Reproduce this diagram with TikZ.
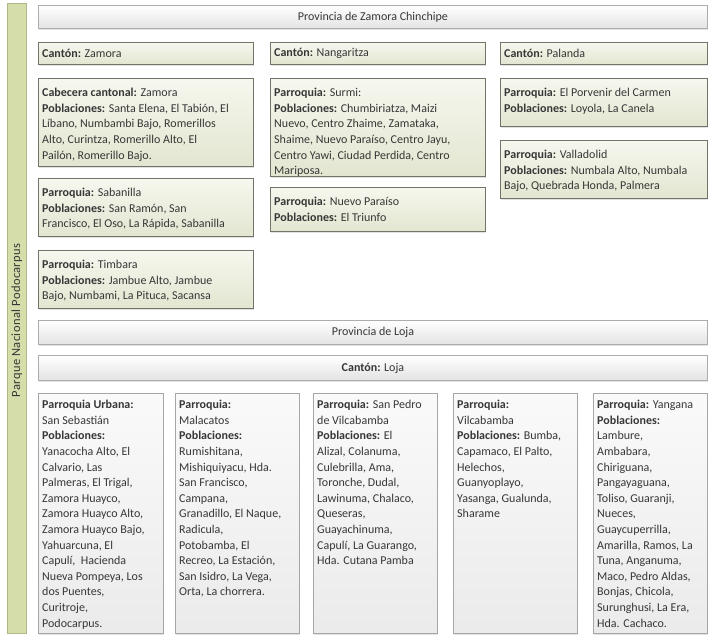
\documentclass[tikz,border=0pt]{standalone}
\usepackage{fontspec}
\setmainfont{Carlito}
\newfontfamily\spacedfont[LetterSpace=3]{Carlito}
\usetikzlibrary{shadows}
\definecolor{textc}{RGB}{55,55,55}
\definecolor{olivefill}{RGB}{213,221,171}
\definecolor{olivedraw}{RGB}{175,185,135}
\definecolor{otop}{RGB}{246,247,238}
\definecolor{obot}{RGB}{226,230,208}
\definecolor{odraw}{RGB}{115,115,105}
\begin{document}
\begin{tikzpicture}[x=1pt,y=-1pt,
  base/.style={inner sep=0pt, anchor=north west, line width=0.9pt,
    drop shadow={shadow xshift=1pt, shadow yshift=-1.2pt, fill=gray!45}},
  gbox/.style={base, top color=white, bottom color=gray!22, draw=gray!65},
  obox/.style={base, top color=otop, bottom color=obot, draw=odraw},
  lbox/.style={base, top color=gray!4, bottom color=gray!16, draw=gray!70},
  txt/.style={font=\fontsize{12}{15.6}\selectfont, text=textc, align=left, inner sep=0pt, anchor=north west},
  ctxt/.style={font=\fontsize{12}{15.6}\selectfont, text=textc, inner sep=0pt}
]
\useasboundingbox (0,0) rectangle (710,635);

% left bar
\node[inner sep=0pt, anchor=north west, minimum width=19, minimum height=630,
  fill=olivefill, draw=olivedraw, line width=0.8pt] (bar) at (7,3) {};
\node[text=textc, inner sep=0pt, font=\spacedfont\fontsize{12.5}{15}\selectfont, rotate=90] (park) at ([yshift=-2]bar.center) {Parque Nacional Podocarpus};

% Zamora Chinchipe
\node[gbox, minimum width=669, minimum height=23] (pz) at (38,5) {};
\node[ctxt] (tpz) at (pz.center) {Provincia de Zamora Chinchipe};

\node[obox, minimum width=215, minimum height=22] (cz) at (38,42) {};
\node[txt, anchor=west] (tcz) at ([xshift=4]cz.west) {\textbf{Cantón:} Zamora};
\node[obox, minimum width=215, minimum height=22] (cn) at (270,42) {};
\node[txt, anchor=west] (tcn) at ([xshift=4]cn.west) {\textbf{Cantón:} Nangaritza};
\node[obox, minimum width=207, minimum height=22] (cp) at (500,42) {};
\node[txt, anchor=west] (tcp) at ([xshift=4]cp.west) {\textbf{Cantón:} Palanda};

% Zamora column
\node[obox, minimum width=215, minimum height=88] (cab) at (38,78) {};
\node[txt] (tcab) at ([shift={(4,10)}]cab.north west) {\textbf{Cabecera cantonal:} Zamora\\
\textbf{Poblaciones:} Santa Elena, El Tabión, El\\
Líbano, Numbambi Bajo, Romerillos\\
Alto, Curintza, Romerillo Alto, El\\
Pailón, Romerillo Bajo.};

\node[obox, minimum width=215, minimum height=58] (sab) at (38,178) {};
\node[txt] (tsab) at ([shift={(4,10)}]sab.north west) {\textbf{Parroquia:} Sabanilla\\
\textbf{Poblaciones:} San Ramón, San\\
Francisco, El Oso, La Rápida, Sabanilla};

\node[obox, minimum width=215, minimum height=58] (tim) at (38,250) {};
\node[txt] (ttim) at ([shift={(4,10)}]tim.north west) {\textbf{Parroquia:} Timbara\\
\textbf{Poblaciones:} Jambue Alto, Jambue\\
Bajo, Numbami, La Pituca, Sacansa};

% Nangaritza column
\node[obox, minimum width=215, minimum height=98] (sur) at (270,78) {};
\node[txt] (tsur) at ([shift={(4,10)}]sur.north west) {\textbf{Parroquia:} Surmi:\\
\textbf{Poblaciones:} Chumbiriatza, Maizi\\
Nuevo, Centro Zhaime, Zamataka,\\
Shaime, Nuevo Paraíso, Centro Jayu,\\
Centro Yawi, Ciudad Perdida, Centro\\
Mariposa.};

\node[obox, minimum width=215, minimum height=44] (np) at (270,187) {};
\node[txt] (tnp) at ([shift={(4,10)}]np.north west) {\textbf{Parroquia:} Nuevo Paraíso\\
\textbf{Poblaciones:} El Triunfo};

% Palanda column
\node[obox, minimum width=207, minimum height=48] (por) at (500,78) {};
\node[txt] (tpor) at ([shift={(4,10)}]por.north west) {\textbf{Parroquia:} El Porvenir del Carmen\\
\textbf{Poblaciones:} Loyola, La Canela};

\node[obox, minimum width=207, minimum height=58] (val) at (500,140) {};
\node[txt] (tval) at ([shift={(4,10)}]val.north west) {\textbf{Parroquia:} Valladolid\\
\textbf{Poblaciones:} Numbala Alto, Numbala\\
Bajo, Quebrada Honda, Palmera};

% Loja
\node[gbox, minimum width=669, minimum height=24] (pl) at (38,320) {};
\node[ctxt] (tpl) at (pl.center) {Provincia de Loja};
\node[gbox, minimum width=669, minimum height=25] (cl) at (38,355) {};
\node[ctxt] (tcl) at (cl.center) {\textbf{Cantón:} Loja};

\node[lbox, minimum width=125, minimum height=240] (b1) at (38,393) {};
\node[txt] (tb1) at ([shift={(4,7)}]b1.north west) {\textbf{Parroquia Urbana:}\\
San Sebastián\\
\textbf{Poblaciones:}\\
Yanacocha Alto, El\\
Calvario, Las\\
Palmeras, El Trigal,\\
Zamora Huayco,\\
Zamora Huayco Alto,\\
Zamora Huayco Bajo,\\
Yahuarcuna, El\\
Capulí, \ Hacienda\\
Nueva Pompeya, Los\\
dos Puentes,\\
Curitroje,\\
Podocarpus.};

\node[lbox, minimum width=124, minimum height=240] (b2) at (175,393) {};
\node[txt] (tb2) at ([shift={(4,7)}]b2.north west) {\textbf{Parroquia:}\\
Malacatos\\
\textbf{Poblaciones:}\\
Rumishitana,\\
Mishiquiyacu, Hda.\\
San Francisco,\\
Campana,\\
Granadillo, El Naque,\\
Radicula,\\
Potobamba, El\\
Recreo, La Estación,\\
San Isidro, La Vega,\\
Orta, La chorrera.};

\node[lbox, minimum width=124, minimum height=240] (b3) at (313,393) {};
\node[txt] (tb3) at ([shift={(4,7)}]b3.north west) {\textbf{Parroquia:} San Pedro\\
de Vilcabamba\\
\textbf{Poblaciones:} El\\
Alizal, Colanuma,\\
Culebrilla, Ama,\\
Toronche, Dudal,\\
Lawinuma, Chalaco,\\
Queseras,\\
Guayachinuma,\\
Capulí, La Guarango,\\
Hda. Cutana Pamba};

\node[lbox, minimum width=124, minimum height=240] (b4) at (453,393) {};
\node[txt] (tb4) at ([shift={(4,7)}]b4.north west) {\textbf{Parroquia:}\\
Vilcabamba\\
\textbf{Poblaciones:} Bumba,\\
Capamaco, El Palto,\\
Helechos,\\
Guanyoplayo,\\
Yasanga, Gualunda,\\
Sharame};

\node[lbox, minimum width=114, minimum height=240] (b5) at (593,393) {};
\node[txt] (tb5) at ([shift={(4,7)}]b5.north west) {\textbf{Parroquia:} Yangana\\
\textbf{Poblaciones:}\\
Lambure,\\
Ambabara,\\
Chiriguana,\\
Pangayaguana,\\
Toliso, Guaranji,\\
Nueces,\\
Guaycuperrilla,\\
Amarilla, Ramos, La\\
Tuna, Anganuma,\\
Maco, Pedro Aldas,\\
Bonjas, Chicola,\\
Surunghusi, La Era,\\
Hda. Cachaco.};
\end{tikzpicture}
\end{document}
